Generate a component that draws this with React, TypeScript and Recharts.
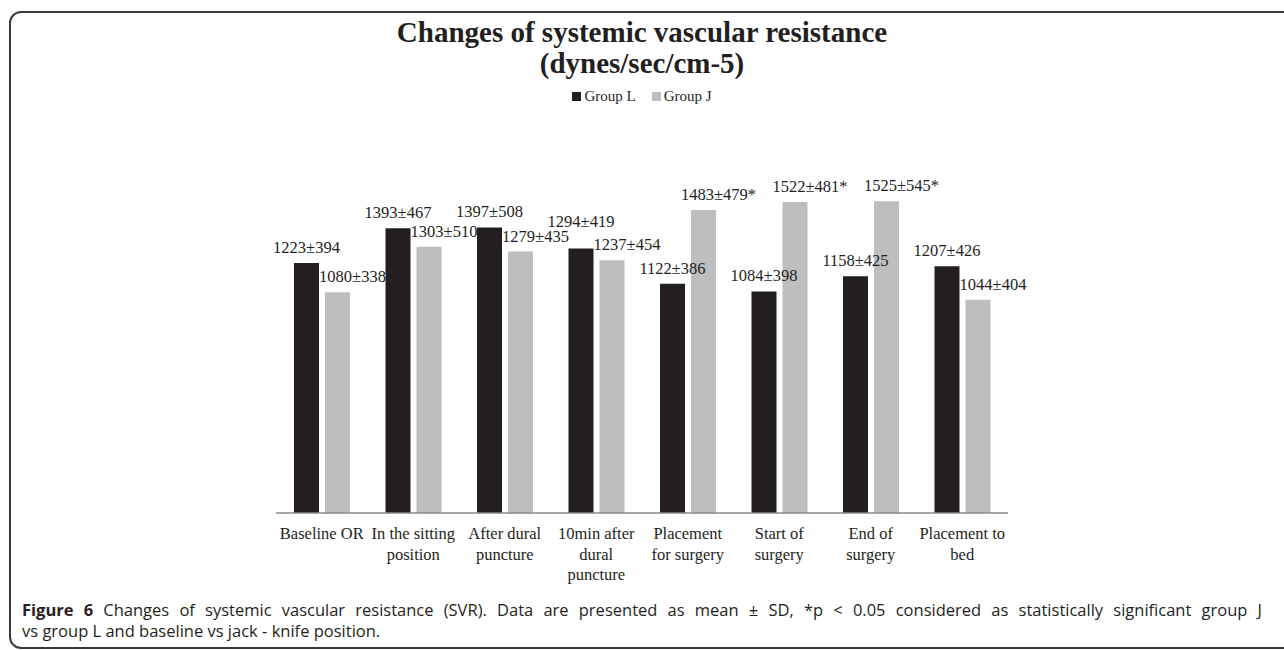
import { BarChart, Bar, XAxis, YAxis, LabelList } from "recharts";

const categories = [
  "Baseline OR",
  "In the sitting\nposition",
  "After dural\npuncture",
  "10min after\ndural\npuncture",
  "Placement\nfor surgery",
  "Start of\nsurgery",
  "End of\nsurgery",
  "Placement to\nbed",
];
const groupLMean = [1223, 1393, 1397, 1294, 1122, 1084, 1158, 1207];
const groupLSd = [394, 467, 508, 419, 386, 398, 425, 426];
const groupJMean = [1080, 1303, 1279, 1237, 1483, 1522, 1525, 1044];
const groupJSd = [338, 510, 435, 454, 479, 481, 545, 404];
const groupJSig = [false, false, false, false, true, true, true, false];

const data = categories.map((name, i) => ({
  name,
  L: groupLMean[i],
  J: groupJMean[i],
  lLabel: `${groupLMean[i]}±${groupLSd[i]}`,
  jLabel: `${groupJMean[i]}±${groupJSd[i]}${groupJSig[i] ? "*" : ""}`,
}));

const INK = "#231f20";
const GREY = "#bcbec0";
const SERIF = "'Liberation Serif', 'Times New Roman', serif";
const LABEL_GAP = 10;

function Tick(props: any) {
  const { x, y, payload } = props;
  const lines = String(payload.value).split("\n");
  return (
    <text x={x} y={y} textAnchor="middle" fill={INK} fontFamily={SERIF} fontSize={16.5}>
      {lines.map((l, i) => (
        <tspan key={i} x={x} dy={i === 0 ? 18 : 20.5}>
          {l}
        </tspan>
      ))}
    </text>
  );
}

// black labels: lift a label when it would collide with the grey label of the previous category
function LLabel(props: any) {
  const { x, y, width, height, value, index } = props;
  let ly = y - LABEL_GAP;
  if (index > 0) {
    const k = height / groupLMean[index];
    const prevY = y + height - groupJMean[index - 1] * k - LABEL_GAP;
    if (Math.abs(prevY - ly) < 16) ly = prevY - 15;
  }
  return (
    <text x={x + width / 2} y={ly} textAnchor="middle" fill={INK} fontFamily={SERIF} fontSize={16.5}>
      {value}
    </text>
  );
}

function JLabel(props: any) {
  const { x, y, width, value } = props;
  return (
    <text x={x + width / 2 + 15} y={y - LABEL_GAP} textAnchor="middle" fill={INK} fontFamily={SERIF} fontSize={16.5}>
      {value}
    </text>
  );
}

function LegendBox() {
  const item = (color: string, label: string) => (
    <span style={{ display: "inline-flex", alignItems: "center", margin: "0 8px" }}>
      <span style={{ display: "inline-block", width: 9, height: 9, background: color, marginRight: 3 }} />
      {label}
    </span>
  );
  return (
    <div style={{ textAlign: "center", fontFamily: SERIF, fontSize: 15, color: INK }}>
      {item(INK, "Group L")}
      {item(GREY, "Group J")}
    </div>
  );
}

export default function App() {
  return (
    <div style={{ position: "absolute", left: 0, top: 0, width: 1284, height: 650, background: "#fff", overflow: "hidden" }}>
      <div
        style={{
          position: "absolute",
          left: 9,
          top: 11,
          width: 1300,
          height: 634,
          border: "2px solid #3a3a3a",
          borderRadius: 12,
        }}
      />
      <div
        style={{
          position: "absolute",
          left: 0,
          top: 17,
          width: 1284,
          textAlign: "center",
          fontFamily: SERIF,
          fontWeight: "bold",
          fontSize: 29,
          lineHeight: "31px",
          color: INK,
        }}
      >
        Changes of systemic vascular resistance
        <br />
        (dynes/sec/cm-5)
      </div>
      <div style={{ position: "absolute", left: 0, top: 88, width: 1284 }}>
        <LegendBox />
      </div>
      <div style={{ position: "absolute", left: 0, top: 0 }}>
        <BarChart
          width={1284}
          height={600}
          data={data}
          margin={{ top: 186, right: 276, left: 276, bottom: 7 }}
          barCategoryGap={18}
          barGap={6}
        >
          <XAxis
            dataKey="name"
            tick={<Tick />}
            tickLine={false}
            axisLine={{ stroke: "#8a8a8a", strokeWidth: 1.5 }}
            interval={0}
            height={80}
          />
          <YAxis hide domain={[0, 1600]} />
          <Bar dataKey="L" name="Group L" fill={INK} isAnimationActive={false}>
            <LabelList dataKey="lLabel" content={<LLabel />} />
          </Bar>
          <Bar dataKey="J" name="Group J" fill={GREY} isAnimationActive={false}>
            <LabelList dataKey="jLabel" content={<JLabel />} />
          </Bar>
        </BarChart>
      </div>
      <div
        style={{
          position: "absolute",
          left: 22,
          top: 599,
          width: 1240,
          fontFamily: "'Open Sans', sans-serif",
          fontSize: 16.5,
          lineHeight: "21px",
          color: INK,
        }}
      >
        <div style={{ textAlign: "justify", textAlignLast: "justify" }}>
          <b style={{ color: "#2b1d1d" }}>Figure 6</b> Changes of systemic vascular resistance (SVR). Data are presented
          as mean ± SD, *p &lt; 0.05 considered as statistically significant group J
        </div>
        <div style={{ whiteSpace: "nowrap" }}>vs group L and baseline vs jack - knife position.</div>
      </div>
    </div>
  );
}
